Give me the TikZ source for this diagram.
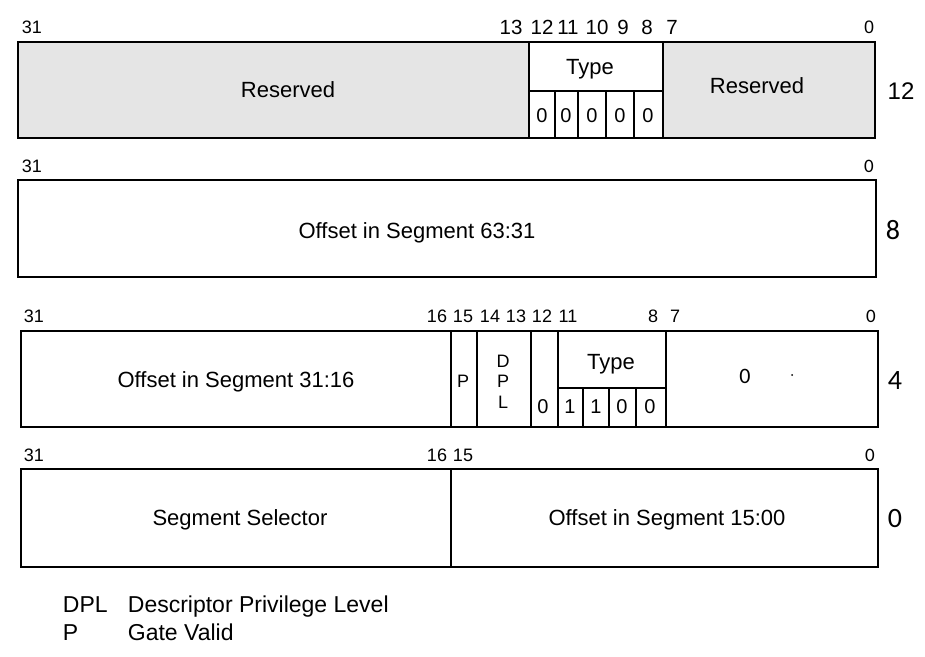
\documentclass[tikz,border=0pt]{standalone}
\usepackage{fontspec}
\setmainfont{Liberation Sans}
\newfontfamily\calfont{Carlito}
\begin{document}
\begin{tikzpicture}[x=1pt,y=-1pt,line width=1.8pt,
  base/.style={inner sep=0pt,text depth=0pt},
  txt/.style={base,text height=15.75pt,font=\fontsize{22}{24}\selectfont},
  bitA/.style={base,text height=14.7pt,font=\fontsize{20.5}{22}\selectfont},
  bitB/.style={base,text height=12.9pt,font=\fontsize{18}{20}\selectfont},
  cell/.style={base,text height=14.3pt,font=\fontsize{20}{22}\selectfont},
  zlbl/.style={base,text height=12pt,font=\calfont\fontsize{19}{20}\selectfont},
  rowlbl/.style={base,text height=17.2pt,font=\fontsize{24}{26}\selectfont},
  rowlblc/.style={base,text height=17.7pt,font=\calfont\fontsize{28}{30}\selectfont},
  leg/.style={inner sep=0pt,anchor=base west,font=\fontsize{23}{26}\selectfont},
  resv/.style={fill=black!10}]
\useasboundingbox (0,0) rectangle (925,656);
% ---------- Row 1 (offset 12)
\fill[resv] (18,42) rectangle (529,138);
\fill[resv] (663,42) rectangle (875,138);
\draw (18,42) rectangle (875,138);
\draw (529,42) -- (529,138);
\draw (663,42) -- (663,138);
\draw (529,91) -- (663,91);
\foreach \x in {555,578,606,634} \draw (\x,91) -- (\x,138);
\node[bitB] (r1b31) at (32,27) {31};
\node[bitA] (r1b13) at (511,27) {13};
\node[bitA] (r1b12) at (542,27) {12};
\node[bitA] (r1b11) at (568,27) {11};
\node[bitA] (r1b10) at (597,27) {10};
\node[bitA] (r1b9) at (623,27) {9};
\node[bitA] (r1b8) at (647,27) {8};
\node[bitA] (r1b7) at (672,27) {7};
\node[bitB] (r1b0) at (869,27) {0};
\node[txt] (r1res1) at (288,90) {Reserved};
\node[txt] (r1type) at (590,67) {Type};
\node[txt] (r1res2) at (757,86) {Reserved};
\node[cell] (r1c1) at (542,115) {0};
\node[cell] (r1c2) at (566,115) {0};
\node[cell] (r1c3) at (592,115) {0};
\node[cell] (r1c4) at (620,115) {0};
\node[cell] (r1c5) at (648,115) {0};
\node[rowlbl] (r1off) at (901,91) {12};
% ---------- Row 2 (offset 8)
\draw (18,180) rectangle (876,277);
\node[bitB] (r2b31) at (32,166) {31};
\node[zlbl] (r2b0) at (869,166) {0};
\node[txt] (r2txt) at (417,231) {Offset in Segment 63:31};
\node[rowlblc] (r2off) at (893,231) {8};
% ---------- Row 3 (offset 4)
\draw (21,331) rectangle (878,427);
\foreach \x in {451,477,531,558,666} \draw (\x,331) -- (\x,427);
\draw (558,388) -- (666,388);
\foreach \x in {583,609,636} \draw (\x,388) -- (\x,427);
\node[bitB] (r3b31) at (34,316) {31};
\node[bitB] (r3b16) at (437,316) {16};
\node[bitB] (r3b15) at (463,316) {15};
\node[bitB] (r3b14) at (490,316) {14};
\node[bitB] (r3b13) at (516,316) {13};
\node[bitB] (r3b12) at (542,316) {12};
\node[bitB] (r3b11) at (568,316) {11};
\node[bitB] (r3b8) at (653,316) {8};
\node[bitB] (r3b7) at (675,316) {7};
\node[zlbl] (r3b0) at (871,316) {0};
\node[txt] (r3txt) at (236,380) {Offset in Segment 31:16};
\node[bitB] (r3p) at (463,381) {P};
\node[bitB] (r3d) at (503,361) {D};
\node[bitB] (r3dp) at (503,381) {P};
\node[bitB] (r3dl) at (503,402) {L};
\node[cell] (r3c0) at (543,406) {0};
\node[txt] (r3type) at (611,362) {Type};
\node[cell] (r3c1) at (570,406) {1};
\node[cell] (r3c2) at (596,406) {1};
\node[cell] (r3c3) at (622,406) {0};
\node[cell] (r3c4) at (650,406) {0};
\node[zlbl,text height=13.9pt,font=\calfont\fontsize{22}{24}\selectfont] (r3zero) at (745,377) {0};
\fill (792,375) circle (1pt);
\node[rowlblc] (r3off) at (895,381) {4};
% ---------- Row 4 (offset 0)
\draw (21,469) rectangle (878,567);
\draw (451,469) -- (451,567);
\node[bitB] (r4b31) at (34,455) {31};
\node[bitB] (r4b16) at (437,455) {16};
\node[bitB] (r4b15) at (463,455) {15};
\node[zlbl] (r4b0) at (870,455) {0};
\node[txt] (r4sel) at (240,518) {Segment Selector};
\node[txt] (r4off) at (667,518) {Offset in Segment 15:00};
\node[rowlblc] (r4row) at (895,519) {0};
% ---------- Legend
\node[leg] (l1a) at (62,612) {DPL};
\node[leg] (l1b) at (127,612) {Descriptor Privilege Level};
\node[leg] (l2a) at (62,640) {P};
\node[leg] (l2b) at (127,640) {Gate Valid};
\end{tikzpicture}
\end{document}
